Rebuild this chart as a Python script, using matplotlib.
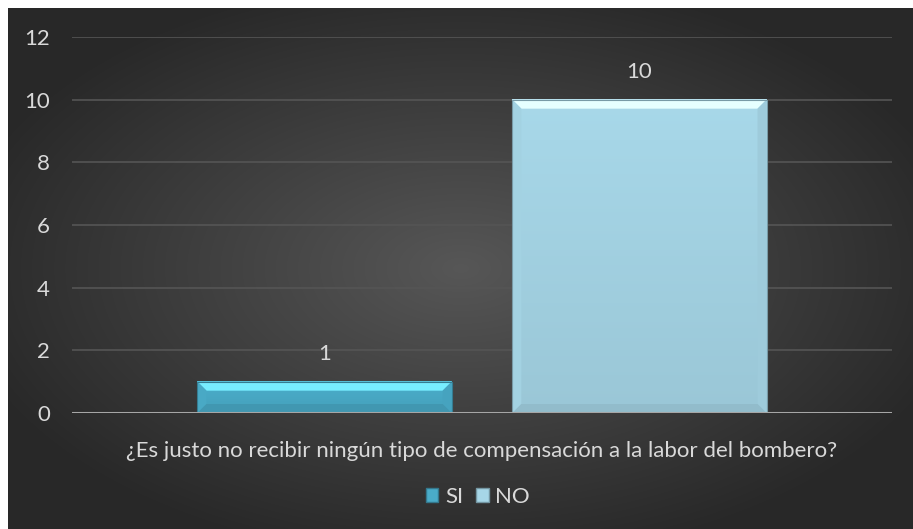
import numpy as np
import matplotlib
matplotlib.use("Agg")
import matplotlib.pyplot as plt
from matplotlib.patches import Polygon
from matplotlib.colors import to_rgb

# ── Data ────────────────────────────────────────────────────
series = ["SI", "NO"]
values = [1, 10]
question = "¿Es justo no recibir ningún tipo de compensación a la labor del bombero?"
yticks = [0, 2, 4, 6, 8, 10, 12]

# ── Style ───────────────────────────────────────────────────
TEXT = "#d9d9d9"
face_colors = ["#4aacc9", "#a6d6e7"]
FS = 16
plt.rcParams["font.family"] = ["Lato", "DejaVu Sans"]

W, H = 913, 529
fig = plt.figure(figsize=(W / 100, H / 100), dpi=100)
fig.patch.set_facecolor("white")

# radial gradient background (dark frame, offset 8px top/left)
bg = fig.add_axes([8 / W, 0, (W - 8) / W, (H - 8) / H])
bg.axis("off")
yy, xx = np.mgrid[0:1:300j, 0:1:500j]
r = np.sqrt(((xx - 0.5) / 0.75) ** 2 + ((yy - 0.5) / 0.75) ** 2)
shade = np.clip(0.34 - 0.24 * r, 0.16, 0.34)
bg.imshow(np.dstack([shade] * 3), aspect="auto", extent=[0, 1, 0, 1],
          interpolation="bilinear")
bg.set_xlim(0, 1)
bg.set_ylim(0, 1)

ax = fig.add_axes([72 / W, 116 / H, 820 / W, 376 / H])
ax.patch.set_alpha(0)
ax.set_xlim(-0.5, 0.5)
ax.set_ylim(0, 12)
for s in ax.spines.values():
    s.set_visible(False)
ax.set_yticks(yticks)
ax.set_xticks([])
ax.tick_params(axis="y", length=0, colors=TEXT, labelsize=FS, pad=16)
ax.grid(axis="y", color="#555555", linewidth=1.2)
ax.set_axisbelow(True)
ax.axhline(0, color="#a6a6a6", linewidth=2.2, zorder=5)

offsets = [-0.192, 0.192]
width = 0.31
px_x = 1.0 / 820          # data units per pixel in x
px_y = 12.0 / 376         # data units per pixel in y
bev = 9

for name, v, off, c in zip(series, values, offsets, face_colors):
    base = np.array(to_rgb(c))
    x0, x1 = off - width / 2, off + width / 2
    # main face with soft vertical gradient
    grad = np.linspace(0, 1, 100)[:, None]
    top_c = np.clip(base * 1.01, 0, 1)
    bot_c = np.clip(base * 0.93, 0, 1)
    img = top_c[None, None, :] * (1 - grad[..., None]) + bot_c[None, None, :] * grad[..., None]
    img = np.repeat(img, 2, axis=1)
    ax.imshow(img, extent=[x0, x1, 0, v], aspect="auto", origin="upper", zorder=2)
    bx, by = bev * px_x, bev * px_y
    # bevel facets
    top = Polygon([[x0, v], [x1, v], [x1 - bx, v - by], [x0 + bx, v - by]],
                  closed=True, facecolor=np.clip(base * 1.2 + 0.12, 0, 1),
                  edgecolor="none", zorder=3)
    left = Polygon([[x0, v], [x0 + bx, v - by], [x0 + bx, by], [x0, 0]],
                   closed=True, facecolor=np.clip(base * 0.98, 0, 1),
                   edgecolor="none", zorder=3)
    right = Polygon([[x1, v], [x1 - bx, v - by], [x1 - bx, by], [x1, 0]],
                    closed=True, facecolor=np.clip(base * 0.95, 0, 1),
                    edgecolor="none", zorder=3)
    bottom = Polygon([[x0, 0], [x1, 0], [x1 - bx, by], [x0 + bx, by]],
                     closed=True, facecolor=np.clip(base * 0.88, 0, 1),
                     edgecolor="none", zorder=3)
    for p in (top, left, right, bottom):
        ax.add_patch(p)
    ax.bar(off, v, width=width, color="none", edgecolor=np.clip(base * 0.72, 0, 1),
           linewidth=0.8, zorder=4, label=name)
    ax.text(off, v + 0.55, f"{v}", ha="center", va="bottom", color=TEXT, fontsize=FS)

fig.text(482 / W, 1 - 451 / H, question, ha="center", va="center",
         color=TEXT, fontsize=FS)

# legend
handles = [plt.Rectangle((0, 0), 1, 1, facecolor=c,
                         edgecolor=np.clip(np.array(to_rgb(c)) * 0.7, 0, 1))
           for c in face_colors]
fig.legend(handles, series, loc="center", bbox_to_anchor=(478 / W, 1 - 497 / H),
           ncol=2, frameon=False, fontsize=FS, labelcolor=TEXT,
           handlelength=0.55, handleheight=0.55, handletextpad=0.3, columnspacing=0.6)

fig.savefig("out.png", dpi=100)
